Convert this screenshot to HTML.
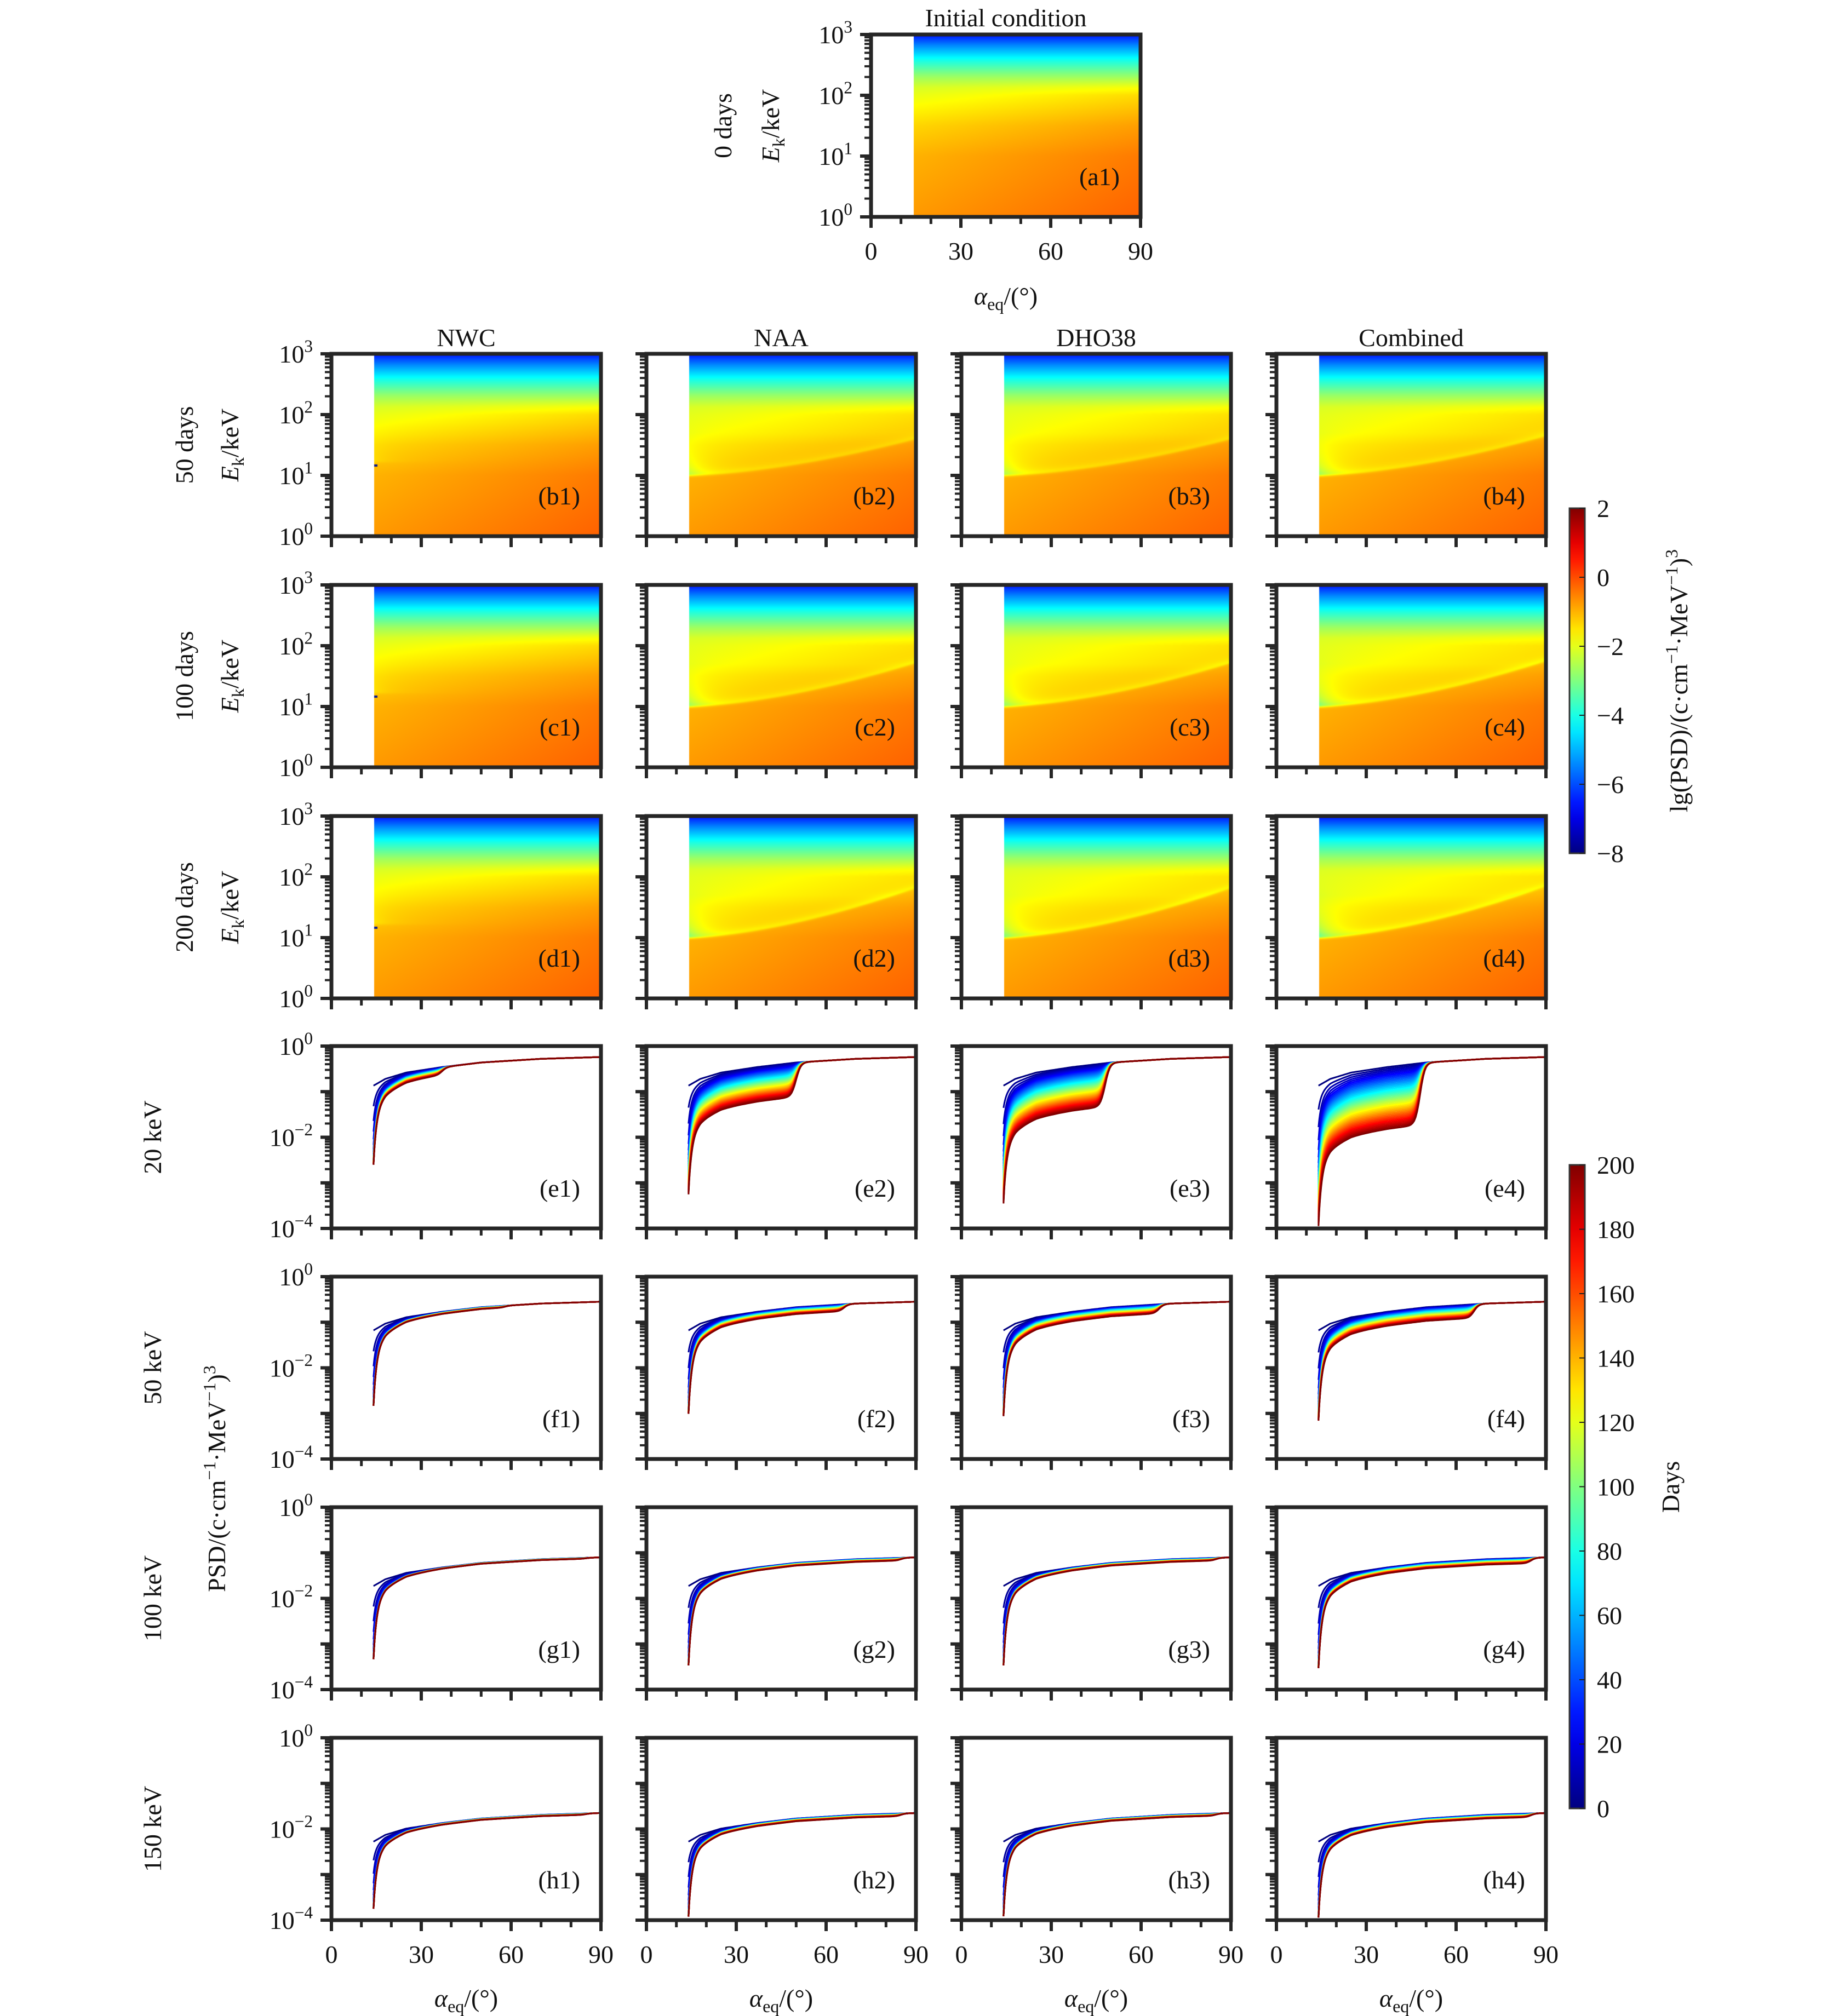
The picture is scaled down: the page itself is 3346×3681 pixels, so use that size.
<!DOCTYPE html>
<html><head><meta charset="utf-8">
<style>
html,body{margin:0;padding:0;background:#fff;}
#wrap{position:relative;width:3346px;height:3681px;overflow:hidden;background:#fff;}
canvas{position:absolute;}
svg{position:absolute;left:0;top:0;}
text{font-family:"Liberation Serif",serif;fill:#111;}
</style></head>
<body>
<div id="wrap">
<svg id="ov" width="3346" height="3681"></svg>
</div>
<script>
// ---------- data ----------
const colNames = ['NWC','NAA','DHO38','Combined'];
const heatRowLabels = ['50 days','100 days','200 days'];
const lineRowLabels = ['20 keV','50 keV','100 keV','150 keV'];
const days = [0,5,10,15,20,25,30,35,40,45,50,55,60,65,70,75,80,85,90,95,100,105,110,115,120,125,130,135,140,145,150,155,160,165,170,175,180,185,190,195,200];
const alphaKeys = [14,18,25,37,50,70,90];
const baseShape = [-0.63,-0.48,-0.34,-0.22,-0.12,-0.04,0];
const rowTopValue = [-0.24,-0.55,-1.1,-1.65];
const depletion = [[0.16,0.75,0.95,1.35],[0.04,0.15,0.2,0.3],[0.02,0.06,0.06,0.12],[0.03,0.06,0.05,0.08]];
const resonanceEdge = [[37,50,48,48],[58,66,66,66],[85,85,85,85],[85,85,85,85]];
const edgeDrop = [[1.64,1.7,1.7,1.8],[1.68,1.75,1.75,1.75],[1.65,1.75,1.75,1.75],[1.5,1.65,1.65,1.65]];
const lossCone = 14;
const energyKeys = [0,1,1.5,2,2.13,2.3,2.57,2.8,3];
const energyPSD = [-0.5,-0.75,-1.1,-1.7,-2.0,-2.7,-4.0,-5.3,-6.6];
const heatDep = [[0.12,0.7,0.75,0.85],[0.15,0.85,0.9,1.0],[0.18,0.95,1.0,1.1]];
const boundLeft = [[1.22,1.0,1.0,1.0],[1.22,1.0,1.0,1.0],[1.22,1.0,1.0,1.0]];
const boundRight = [[1.22,1.6,1.6,1.65],[1.22,1.72,1.72,1.75],[1.22,1.82,1.82,1.85]];
const lgTicks = [2,0,-2,-4,-6,-8];
const dayTicks = [0,20,40,60,80,100,120,140,160,180,200];
const xTicks = [0,30,60,90];

// ---------- layout ----------
const colX = [605,1180,1755,2330], W = 492, H = 333;
const heatY = [646,1068,1490], lineY = [1910,2331,2752,3173];
const A1X = 1590, A1Y = 63;
const NS = 'http://www.w3.org/2000/svg';
const ov = document.getElementById('ov');
const wrap = document.getElementById('wrap');

function el(tag, attrs, parent){const e=document.createElementNS(NS,tag);for(const k in attrs)e.setAttribute(k,attrs[k]);(parent||ov).appendChild(e);return e;}
function clamp(v){return Math.max(0,Math.min(1,v));}
function jet(t){return [clamp(Math.min(4*t-1.5,-4*t+4.5)),clamp(Math.min(4*t-0.5,-4*t+3.5)),clamp(Math.min(4*t+0.5,-4*t+2.5))];}
function jetCss(t){const c=jet(t);return 'rgb('+Math.round(c[0]*255)+','+Math.round(c[1]*255)+','+Math.round(c[2]*255)+')';}
function interp(x,xs,ys){if(x<=xs[0])return ys[0];for(let i=1;i<xs.length;i++){if(x<=xs[i]){const f=(x-xs[i-1])/(xs[i]-xs[i-1]);return ys[i-1]+f*(ys[i]-ys[i-1]);}}return ys[ys.length-1];}

function supText(x,y,base,sup,anchor,size,name){
  const t=el('text',{x:x,y:y,'text-anchor':anchor,'font-size':size});
  
  
  const a=el('tspan',{},t);a.textContent=base;
  const b=el('tspan',{dy:-size*0.42,'font-size':size*0.68},t);b.textContent=sup;
  return t;
}
function plainText(x,y,s,anchor,size,name,rot){
  const attrs={x:x,y:y,'text-anchor':anchor,'font-size':size};
  if(rot)attrs.transform='rotate(-90 '+x+' '+y+')';
  const t=el('text',attrs);
  
  
  t.textContent=s;return t;
}
function alphaLabel(cx,y,name){
  const t=el('text',{x:cx,y:y,'text-anchor':'middle','font-size':46});
  
  
  const a=el('tspan',{'font-style':'italic'},t);a.textContent='α';
  const b=el('tspan',{dy:10,'font-size':32},t);b.textContent='eq';
  const c=el('tspan',{dy:-10},t);c.textContent='/(°)';
}
function ekLabel(cx,cy,name){
  const t=el('text',{x:cx,y:cy,'text-anchor':'middle','font-size':46,transform:'rotate(-90 '+cx+' '+cy+')'});
  
  
  const a=el('tspan',{'font-style':'italic'},t);a.textContent='E';
  const b=el('tspan',{dy:10,'font-size':32},t);b.textContent='k';
  const c=el('tspan',{dy:-10},t);c.textContent='/keV';
}

function frame(x,y,decades,yMin,name,showY,showX){
  const g=el('g',{});
  
  
  const sx=a=>x+a/90*W;
  const sy=v=>y+H-(v-yMin)/decades*H;
  for(let a=0;a<=90;a+=10){
    const major=a%30===0;
    el('line',{x1:sx(a),x2:sx(a),y1:y+H,y2:y+H+(major?20:13),stroke:'#262626','stroke-width':major?6:5},g);
  }
  for(let d=0;d<=decades;d++){
    const v=yMin+d;
    el('line',{x1:x-20,x2:x,y1:sy(v),y2:sy(v),stroke:'#262626','stroke-width':6},g);
    if(d<decades){for(let m=2;m<=9;m++){const vv=v+Math.log10(m);el('line',{x1:x-12,x2:x,y1:sy(vv),y2:sy(vv),stroke:'#262626','stroke-width':4},g);}}
  }
  el('rect',{x:x,y:y,width:W,height:H,fill:'none',stroke:'#262626','stroke-width':7},g);
  if(showY){
    for(let d=0;d<=decades;d++){
      const v=yMin+d;
      if(decades===4 && d%2===1)continue;
      supText(x-34,sy(v)+16,'10',(v<0?'−':'')+Math.abs(v),'end',46,name+'-ytick-'+v);
    }
  }
  if(showX){
    xTicks.forEach(a=>plainText(sx(a),y+H+78,String(a),'middle',46,name+'-xtick-'+a));
  }
  return {sx,sy};
}

// ---------- heatmaps ----------
function heatValue(a,le,r,c){
  let w = le<2?1:Math.max(0,1-(le-2)/0.3);
  let v = interp(le,energyKeys,energyPSD) + (0.55*(a-14)/76-0.25)*w;
  if(r>=0){
    const D=heatDep[r][c];
    const lb=boundLeft[r][c]+(boundRight[r][c]-boundLeft[r][c])*Math.pow(Math.max(0,(a-14)/76),1.6);
    if(le>lb-0.05){
      const fadeTop = le<1.7?1:Math.max(0,1-(le-1.7)/0.4);
      const s = 1/(1+Math.exp(-(le-lb)/0.012));
      const dd=Math.max(0,le-lb);
      let d = D*(0.3+1.6*Math.exp(-(a-14)/6)*Math.exp(-dd/0.3)+0.7*Math.exp(-dd/0.06))*fadeTop*s;
      if(c===0) d*=Math.exp(-(a-14)/15);
      v-=d;
    }
  }
  return v;
}
function drawHeat(x,y,r,c,name){
  const cv=document.createElement('canvas');
  cv.width=W;cv.height=H;
  cv.style.left=x+'px';cv.style.top=y+'px';
  
  
  wrap.insertBefore(cv,ov);
  const ctx=cv.getContext('2d');
  const img=ctx.createImageData(W,H);
  for(let j=0;j<H;j++){
    const le=3-(j+0.5)/H*3;
    for(let i=0;i<W;i++){
      const a=(i+0.5)/W*90;
      const k=(j*W+i)*4;
      if(a<lossCone+0.2){img.data[k]=255;img.data[k+1]=255;img.data[k+2]=255;img.data[k+3]=255;continue;}
      const v=heatValue(a,le,r,c);
      const col=jet((v+8)/10);
      img.data[k]=col[0]*255;img.data[k+1]=col[1]*255;img.data[k+2]=col[2]*255;img.data[k+3]=255;
    }
  }
  ctx.putImageData(img,0,0);
  if(c===0 && r>=0){
    ctx.fillStyle='#0a1a8a';
    ctx.fillRect(Math.round((lossCone+0.2)/90*W),Math.round(H-1.18/3*H),6,4);
  }
}

drawHeat(A1X,A1Y,-1,0,'heatmap-a1');
frame(A1X,A1Y,3,0,'panel-a1',true,true);
plainText(A1X+W-38,A1Y+H-58,'(a1)','end',46,'panel-label-a1');
plainText(A1X+W/2,48,'Initial condition','middle',46,'title-initial-condition');
plainText(1335,A1Y+H/2,'0 days','middle',46,'row-label-0-days',true);
ekLabel(1422,A1Y+H/2,'y-axis-title-a1');
alphaLabel(A1X+W/2,A1Y+H+160,'x-axis-title-a1');

const rowLetters=['b','c','d'];
for(let r=0;r<3;r++){
  for(let c=0;c<4;c++){
    const id=rowLetters[r]+(c+1);
    drawHeat(colX[c],heatY[r],r,c,'heatmap-'+id);
    frame(colX[c],heatY[r],3,0,'panel-'+id,c===0,false);
    plainText(colX[c]+W-38,heatY[r]+H-58,'('+id+')','end',46,'panel-label-'+id);
  }
  plainText(352,heatY[r]+H/2,heatRowLabels[r],'middle',46,'row-label-'+heatRowLabels[r].replace(' ','-'),true);
  ekLabel(435,heatY[r]+H/2,'y-axis-title-row-'+rowLetters[r]);
}
colNames.forEach((n,c)=>plainText(colX[c]+W/2,632,n,'middle',46,'column-title-'+n.toLowerCase()));

// ---------- line panels ----------
function lineValue(a,day,r,c){
  let v=rowTopValue[r]+interp(a,alphaKeys,baseShape);
  const s=1/(1+Math.exp((a-resonanceEdge[r][c])/0.8));
  v-=depletion[r][c]*(day/200)*s;
  if(day>0){
    const prof=0.75*Math.exp(-(a-lossCone)/1.0)+0.25*Math.exp(-(a-lossCone)/6);
    v-=edgeDrop[r][c]*(1-Math.exp(-day/15))*prof;
  }
  return v;
}
const alphaSamples=[];
for(let a=14.05;a<20;a+=0.1)alphaSamples.push(a);
for(let a=20;a<=90.001;a+=0.5)alphaSamples.push(a);
const lineLetters=['e','f','g','h'];
for(let r=0;r<4;r++){
  for(let c=0;c<4;c++){
    const id=lineLetters[r]+(c+1);
    const x=colX[c],y=lineY[r];
    const ax=frame(x,y,4,-4,'panel-'+id,c===0,r===3);
    const g=el('g',{'clip-path':'url(#clip-'+id+')'});
    
    
    const cp=el('clipPath',{id:'clip-'+id});
    el('rect',{x:x,y:y,width:W,height:H},cp);
    days.forEach(d=>{
      let p='';
      alphaSamples.forEach((a,i)=>{
        const v=Math.max(-4.2,lineValue(a,d,r,c));
        p+=(i?'L':'M')+ax.sx(a).toFixed(1)+' '+ax.sy(v).toFixed(1);
      });
      const path=el('path',{d:p,fill:'none',stroke:jetCss(d/200),'stroke-width':3},g);
      
      
    });
    el('rect',{x:x,y:y,width:W,height:H,fill:'none',stroke:'#262626','stroke-width':7});
    plainText(x+W-38,y+H-58,'('+id+')','end',46,'panel-label-'+id);
    if(r===3)alphaLabel(x+W/2,y+H+158,'x-axis-title-'+(c+1));
  }
  plainText(294,lineY[r]+H/2,lineRowLabels[r],'middle',46,'row-label-'+lineRowLabels[r].replace(' ','-'),true);
}
(function(){
  const cx=411,cy=2700;
  const t=el('text',{x:cx,y:cy,'text-anchor':'middle','font-size':46,transform:'rotate(-90 '+cx+' '+cy+')'});
  
  
  const a=el('tspan',{},t);a.textContent='PSD/(c·cm';
  const b=el('tspan',{dy:-18,'font-size':32},t);b.textContent='−1';
  const c=el('tspan',{dy:18},t);c.textContent='·MeV';
  const d=el('tspan',{dy:-18,'font-size':32},t);d.textContent='−1';
  const e=el('tspan',{dy:18},t);e.textContent=')';
  const f=el('tspan',{dy:-18,'font-size':32},t);f.textContent='3';
})();

// ---------- colorbars ----------
const defs=el('defs',{});
function gradient(id){
  const lg=el('linearGradient',{id:id,x1:0,y1:1,x2:0,y2:0},defs);
  for(let i=0;i<=20;i++){el('stop',{offset:(i/20),'stop-color':jetCss(i/20)},lg);}
}
gradient('jetgrad');
const cb1={x:2865,y:928,w:28,h:630};
const r1=el('rect',{x:cb1.x,y:cb1.y,width:cb1.w,height:cb1.h,fill:'url(#jetgrad)',stroke:'#333','stroke-width':3});


lgTicks.forEach(v=>{
  const yy=cb1.y+(2-v)/10*cb1.h;
  el('line',{x1:cb1.x+cb1.w-10,x2:cb1.x+cb1.w,y1:yy,y2:yy,stroke:'#222','stroke-width':2});
  plainText(cb1.x+50,yy+16,(v<0?'−':'')+Math.abs(v),'start',46,'colorbar-psd-tick-'+v);
});
(function(){
  const cx=3080,cy=1243;
  const t=el('text',{x:cx,y:cy,'text-anchor':'middle','font-size':46,transform:'rotate(-90 '+cx+' '+cy+')'});
  
  
  const a=el('tspan',{},t);a.textContent='lg(PSD)/(c·cm';
  const b=el('tspan',{dy:-18,'font-size':32},t);b.textContent='−1';
  const c=el('tspan',{dy:18},t);c.textContent='·MeV';
  const d=el('tspan',{dy:-18,'font-size':32},t);d.textContent='−1';
  const e=el('tspan',{dy:18},t);e.textContent=')';
  const f=el('tspan',{dy:-18,'font-size':32},t);f.textContent='3';
})();
const cb2={x:2865,y:2127,w:28,h:1175};
const r2=el('rect',{x:cb2.x,y:cb2.y,width:cb2.w,height:cb2.h,fill:'url(#jetgrad)',stroke:'#333','stroke-width':3});


dayTicks.forEach(v=>{
  const yy=cb2.y+(200-v)/200*cb2.h;
  el('line',{x1:cb2.x+cb2.w-10,x2:cb2.x+cb2.w,y1:yy,y2:yy,stroke:'#222','stroke-width':2});
  plainText(cb2.x+50,yy+16,String(v),'start',46,'colorbar-days-tick-'+v);
});
plainText(3065,2715,'Days','middle',46,'colorbar-days-title',true);
</script>
</body></html>
